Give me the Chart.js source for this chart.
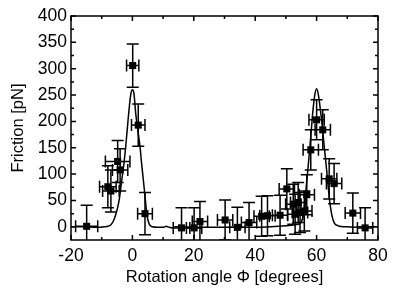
<!DOCTYPE html>
<html>
<head>
<meta charset="utf-8">
<script src="https://cdn.jsdelivr.net/npm/chart.js@4.4.1/dist/chart.umd.min.js"></script>
<style>
  html, body { margin: 0; padding: 0; background: #fff; }
  #wrap { width: 398px; height: 289px; }
</style>
</head>
<body>
<div id="wrap"><canvas id="friction"></canvas></div>
<script>
// measured points
const angle = [-14.9, -8.0, -7.0, -4.8, -4.0, 0.1, 1.9, 4.1, 16.0, 20.1, 22.0, 30.2, 34.2, 38.0, 42.1, 44.0,
  48.1, 50.3, 52.4, 53.0, 54.0, 54.6, 56.0, 56.8, 58.1, 60.0, 62.0, 64.1, 65.7, 71.8, 75.8];
const friction = [1, 76, 68, 124, 108, 306, 193, 25, -2, -2, 10, 13, -1, 8, 20, 21,
  22, 72, 43, 24, 46, 27, 30, 61, 146, 203, 184, 91, 82, 26, -2];
const angleErr = [3.6, 2.7, 2.7, 4, 2.5, 2, 2.2, 2.4, 2.7, 2.5, 2.5, 2.5, 2.5, 2.5, 2.5, 2.5,
  2.5, 2.5, 2.5, 2.5, 2.5, 2.5, 2.5, 2.5, 2.5, 2.5, 2.5, 2.5, 2.5, 2.5, 2.5];
const frictionErr = [40, 40, 40, 40, 40, 41, 40, 40, 38, 38, 38, 38, 38, 38, 38, 38,
  38, 38, 38, 38, 38, 38, 38, 38, 38, 38, 38, 38, 38, 38, 38];

// fitted curve
const fitAngle = [-20, -16, -12, -9, -8, -7, -6.2, -5.5, -4.8, -4.2, -3.5, -2.8, -2.2, -1.6, -1.1, -0.5, 0, 0.5,
  1.1, 1.8, 2.5, 3.0, 3.6, 4.2, 4.7, 5.2, 5.7, 6.5, 8, 10, 11, 12, 13, 14, 16, 20, 25, 30, 35, 40, 45, 50,
  53, 54.5, 55.1, 55.7, 56.3, 56.8, 57.3, 57.8, 58.3, 58.7, 59.4, 60, 60.6, 61.4, 62, 62.5, 63.1, 63.6,
  64.2, 64.9, 65.7, 66.5, 68.6, 70, 72, 74, 76, 80];
const fitFriction = [0, 0, -1, 0, 1, 4, 11, 22, 37, 55, 87, 118, 151, 190, 222, 252, 260, 253,
  214, 182, 151, 120, 87, 52, 24, 10, 3, 0, -1, -1, 1, -1, -2, 0, 0, -1, -1, -1, -1, -1, 0, 2,
  4, 6, 10, 24, 55, 87, 118, 151, 185, 214, 250, 262, 250, 214, 182, 151, 118, 87,
  52, 24, 8, 3, 0, 0, -1, 0, 0, 0];

const xTicks = [-20, 0, 20, 40, 60, 80];
const yTicks = [0, 50, 100, 150, 200, 250, 300, 350, 400];

const family = '"Liberation Sans", Arial, sans-serif';

const errorBars = {
  id: 'errorBars',
  beforeDatasetsDraw(chart) {
    const { ctx, chartArea: a, scales: { x, y } } = chart;
    ctx.save();
    ctx.beginPath();
    ctx.rect(a.left, a.top, a.right - a.left, a.bottom - a.top);
    ctx.clip();
    ctx.strokeStyle = '#000';
    ctx.lineWidth = 1.5;
    const cap = 6;
    angle.forEach((v, i) => {
      const px = x.getPixelForValue(v), py = y.getPixelForValue(friction[i]);
      const x0 = x.getPixelForValue(v - angleErr[i]), x1 = x.getPixelForValue(v + angleErr[i]);
      const y0 = y.getPixelForValue(friction[i] - frictionErr[i]), y1 = y.getPixelForValue(friction[i] + frictionErr[i]);
      ctx.beginPath();
      ctx.moveTo(px, y0); ctx.lineTo(px, y1);
      ctx.moveTo(px - cap, y0); ctx.lineTo(px + cap, y0);
      ctx.moveTo(px - cap, y1); ctx.lineTo(px + cap, y1);
      ctx.moveTo(x0, py); ctx.lineTo(x1, py);
      ctx.moveTo(x0, py - cap); ctx.lineTo(x0, py + cap);
      ctx.moveTo(x1, py - cap); ctx.lineTo(x1, py + cap);
      ctx.stroke();
    });
    ctx.restore();
  }
};

const frame = {
  id: 'frame',
  afterDraw(chart) {
    const { ctx, chartArea: a, scales: { x, y } } = chart;
    ctx.save();
    ctx.strokeStyle = '#000';
    ctx.lineWidth = 1.5;
    ctx.strokeRect(a.left, a.top, a.right - a.left, a.bottom - a.top);
    ctx.beginPath();
    for (let v = -20; v <= 80; v += 10) {
      const px = x.getPixelForValue(v);
      const len = v % 20 === 0 ? 5 : 3;
      ctx.moveTo(px, a.bottom); ctx.lineTo(px, a.bottom - len);
      ctx.moveTo(px, a.top); ctx.lineTo(px, a.top + len);
    }
    for (let v = 0; v <= 400; v += 25) {
      const py = y.getPixelForValue(v);
      const len = v % 50 === 0 ? 5 : 3;
      ctx.moveTo(a.left, py); ctx.lineTo(a.left + len, py);
      ctx.moveTo(a.right, py); ctx.lineTo(a.right - len, py);
    }
    ctx.stroke();
    ctx.restore();
  }
};

new Chart(document.getElementById('friction'), {
  type: 'scatter',
  data: {
    datasets: [{
      label: 'data',
      data: angle.map((v, i) => ({ x: v, y: friction[i] })),
      pointStyle: 'rect',
      pointRadius: 5,
      backgroundColor: '#000',
      borderColor: '#000',
      borderWidth: 0
    }, {
      label: 'fit',
      type: 'line',
      data: fitAngle.map((v, i) => ({ x: v, y: fitFriction[i] })),
      borderColor: '#000',
      borderWidth: 1.5,
      pointRadius: 0,
      cubicInterpolationMode: 'monotone',
      fill: false
    }]
  },
  options: {
    responsive: true,
    maintainAspectRatio: false,
    animation: false,
    layout: { padding: { top: 16, right: 20, left: 0, bottom: 0 } },
    plugins: { legend: { display: false }, tooltip: { enabled: false } },
    scales: {
      x: {
        type: 'linear',
        min: -20, max: 80,
        afterBuildTicks: s => { s.ticks = xTicks.map(v => ({ value: v })); },
        afterFit: s => { s.height = 49; },
        grid: { display: false, drawTicks: false },
        border: { display: false },
        ticks: { color: '#000', font: { family, size: 17.5 }, padding: 6, maxRotation: 0 },
        title: { display: true, text: 'Rotation angle Φ [degrees]', color: '#000',
          font: { family, size: 16.5 }, padding: { top: 0, bottom: 2 } }
      },
      y: {
        min: -25, max: 400,
        afterBuildTicks: s => { s.ticks = yTicks.map(v => ({ value: v })); },
        afterFit: s => { s.width = 71; },
        grid: { display: false, drawTicks: false },
        border: { display: false },
        ticks: { color: '#000', font: { family, size: 17.5 }, padding: 4 },
        title: { display: true, text: 'Friction [pN]', color: '#000',
          font: { family, size: 16.5 }, padding: { top: 9, bottom: 0 } }
      }
    }
  },
  plugins: [errorBars, frame]
});
</script>
</body>
</html>
